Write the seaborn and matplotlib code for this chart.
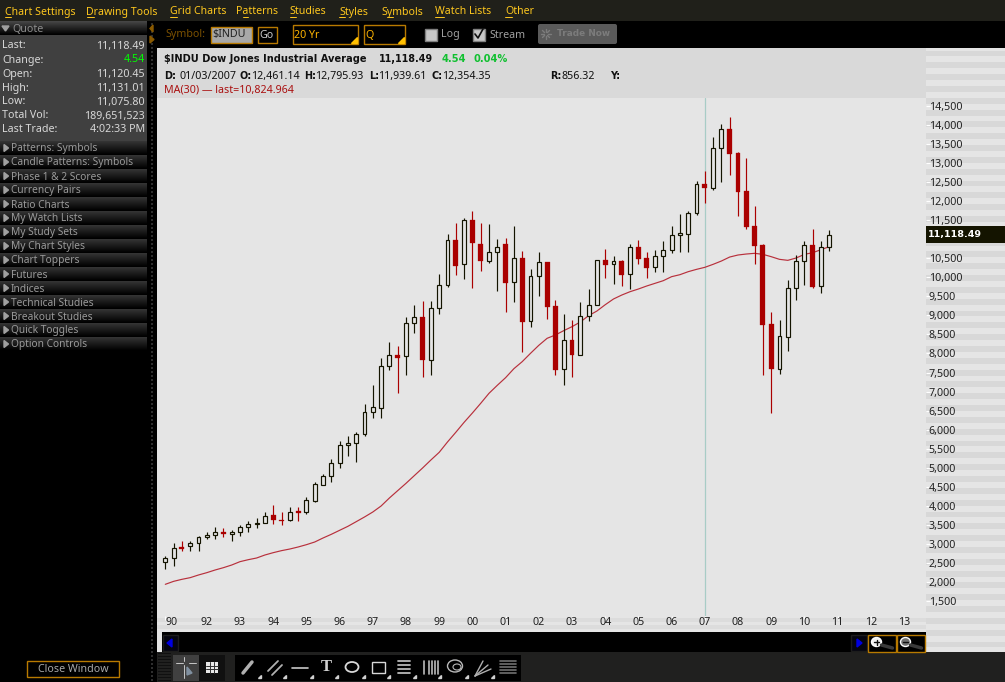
import numpy as np
import matplotlib
matplotlib.use("Agg")
import matplotlib.pyplot as plt
from matplotlib.patches import Rectangle, Polygon, Ellipse, FancyBboxPatch
import seaborn as sns

# ---------- data ----------
tops = [2620,2900,2918,3014,3172,3224,3303,3312,3312,3434,3513,3539,3741,3749,3627,3828,3863,4143,4563,4774,
        5115,5588,5640,5876,6454,6586,7662,7951,7960,8791,8949,8958,9185,9789,10971,10980,11496,11505,10875,10656,
        10787,10875,10498,10507,10026,10393,10402,9247,8345,8354,8975,9264,10446,10455,10420,10420,10787,10796,10507,10551,
        10708,11102,11155,11680,12442,12461.14,13387,13886,13895,13264,12266,11347,10849,8774,8451,9711,10420,10840,10840,10788,11118.49]
bottoms = [2515,2629,2874,2953,3014,3172,3224,3268,3268,3303,3434,3513,3539,3636,3609,3636,3819,3828,4135,4537,
           4774,5115,5588,5640,5876,6454,6559,7662,7890,7925,8791,7829,7820,9185,9789,10297,10341,10901,10428,10437,
           10656,9851,9868,8826,8844,10026,9220,7566,7583,7960,7969,8975,9264,10323,10341,10069,10078,10481,10245,10262,
           10551,10708,11102,11129,11680,12354.35,12336,13387,13238,12240,11321,10822,8748,7602,7602,8442,9711,10420,9737,9764,10788]
highs = [2682,3014,3075,3067,3207,3303,3443,3417,3356,3487,3592,3679,3828,4021,3837,3968,3968,4222,4616,4826,
         5220,5693,5833,5929,6673,7163,7881,8301,8196,8958,9264,9378,9378,10087,11137,11426,11557,11741,11426,11400,
         11006,11032,11347,10691,10218,10665,10402,9404,9036,8879,9352,9693,10446,10743,10560,10455,10866,10980,10665,10717,
         10953,11347,11662,11732,12529,12795.93,13684,14026,14210,13291,13133,11873,10875,9090,8879,9930,10586,10954,11269,10954,11243]
lows = [2331,2428,2822,2822,2822,3119,3137,3189,3084,3216,3321,3426,3539,3531,3504,3609,3609,3793,4108,4537,
        4634,5001,5316,5159,5841,6305,6305,7566,6971,7443,8546,7391,7443,9045,9754,10061,9956,9728,10166,10384,
        9649,9098,9352,8039,8704,9509,8905,7435,7172,7391,7969,8861,9264,9982,9824,9772,9693,10349,9982,10139,
        10139,10638,10665,10665,11636,11939.61,12293,12503,12687,11610,11269,10350,7435,6446,7461,8065,9405,9799,9720,9589,10691]
falling = [2,7,13,14,16,28,31,35,37,38,41,43,46,47,49,53,55,57,58,65,68,69,70,71,72,73,78]
ma30 = [1938,2016,2069,2113,2183,2244,2314,2375,2445,2533,2585,2629,2708,2769,2822,2865,2918,2979,3049,3154,
        3251,3356,3461,3583,3706,3837,3995,4205,4398,4590,4792,4993,5203,5404,5676,5930,6192,6437,6691,6954,
        7164,7365,7601,7785,8004,8214,8398,8486,8599,8704,8826,8993,9115,9280,9431,9535,9623,9693,9772,9842,
        9912,10017,10069,10148,10209,10262,10341,10428,10533,10586,10612,10630,10603,10542,10472,10446,10507,10603,10647,10726,10805]
x_tick_pos = [0,5,9,13,17,21,25,29,33,37,41,45,49,53,57,61,65,69,73,77,81,85,89]
x_tick_labels = ["90","92","93","94","95","96","97","98","99","00","01","02","03","04","05","06","07","08","09","10","11","12","13"]
y_tick_vals = list(range(1500, 15000, 500))
marker_index = 65
last_price = 11118.49
last_label = "11,118.49"
quote_labels = ["Last:","Change:","Open:","High:","Low:","Total Vol:","Last Trade:"]
quote_values = ["11,118.49","4.54","11,120.45","11,131.01","11,075.80","189,651,523","4:02:33 PM"]
panel_rows = ["Patterns: Symbols","Candle Patterns: Symbols","Phase 1 & 2 Scores","Currency Pairs","Ratio Charts",
              "My Watch Lists","My Study Sets","My Chart Styles","Chart Toppers","Futures","Indices",
              "Technical Studies","Breakout Studies","Quick Toggles","Option Controls"]
menu_items = [("Chart Settings",5,5,6),("Drawing Tools",86,87,7),("Grid Charts",170,170,7),("Patterns",236,243,5),
              ("Studies",290,290,6),("Styles",339,339,6),("Symbols",382,388,5),("Watch Lists",435,435,9),("Other",505,505,7)]

# ---------- styling ----------
sns.set_theme(style="white")
FONT = ["Noto Sans", "DejaVu Sans"]
BOLD = ["DejaVu Sans"]
plt.rcParams["font.family"] = FONT
W, H = 1005, 682
fig = plt.figure(figsize=(W/100, H/100), dpi=100, facecolor="black")
BG = "#E5E5E5"; INK = "#141400"; RED = "#AA0000"; FS = 7.7; BS = 7.1

def layer(z):
    a = fig.add_axes([0, 0, 1, 1], zorder=z)
    a.set_xlim(0, W); a.set_ylim(H, 0); a.axis("off"); a.patch.set_alpha(0)
    return a

ui = layer(0); top = layer(3)

def R(a, x0, y0, x1, y1, fc="none", ec="none", lw=0.75, z=1):
    a.add_patch(Rectangle((x0, y0), x1-x0, y1-y0, facecolor=fc, edgecolor=ec, linewidth=lw, zorder=z))

def T(a, x, y, s, c="#A8A8A8", ha="left", fs=FS, w="normal", fam=None, dy=1):
    a.text(x, y+dy, s, color=c, ha=ha, va="center", fontsize=fs, fontweight=w, family=fam or FONT, zorder=5)

def TB(a, x, y, s, c="#101010", fs=BS):
    T(a, x, y, s, c=c, fs=fs, w="bold", fam=BOLD, dy=0)

def grad(a, x0, y0, x1, y1, c0, c1):
    g = np.linspace(c0, c1, 16).reshape(-1, 1)
    a.imshow(g, extent=(x0, x1, y1, y0), aspect="auto", cmap="gray", vmin=0, vmax=255, zorder=1)
    a.set_xlim(0, W); a.set_ylim(H, 0)

# ----- chrome: base -----
R(ui, 0, 0, W, 21, "#20201A")
R(ui, 157, 48, W, 632, BG)
R(ui, 157, 48, 926, 98, "#D9D9D9")
for k in range(51):
    y = 216 + (k-14)*11.82
    if y > 46:
        R(ui, 926, max(y, 48), W, y+5.9, "#D8D8D8", z=1.5)
R(ui, 926, 632, W, 652, BG)
for k in range(32, 36):
    y = 216 + k*11.82
    R(ui, 926, y, W, y+5.9, "#D8D8D8", z=1.5)
R(ui, 157, 616, 926, 632, BG)
for y in (618, 625):
    R(ui, 157, y, 926, y+3.5, "#DCDCDC", z=1.5)
R(ui, 157, 632, 162, 652, "#E5E5E5", z=2)
R(ui, 157, 652, W, H, "#20201F", z=2)

# menu
for name, x, ux, uw in menu_items:
    T(ui, x, 11, name, c="#FFC81E", fs=7.6)
    ui.plot([ux, ux+uw], [17, 17], color="#FFC81E", lw=0.7, zorder=5)

# left panel
grad(ui, 0, 21, 147, 35, 70, 0)
ui.add_patch(Polygon([(2, 26), (9, 26), (5.5, 31)], color="#A0A0A0", zorder=5))
T(ui, 12, 28, "Quote", c="#8C8C8C")
R(ui, 0, 35, 147, 141, "#404040")
for i, (a, b) in enumerate(zip(quote_labels, quote_values)):
    T(ui, 2, 45+14*i, a, c="#D8D8D8")
    T(ui, 145, 45+14*i, b, c="#00FF00" if a == "Change:" else "#D8D8D8", ha="right")
for i, name in enumerate(panel_rows):
    y = 141+14*i
    grad(ui, 0, y, 147, y+14, 52, 0)
    ui.add_patch(Polygon([(4, y+3.5), (4, y+10.5), (8.5, y+7)], color="#A0A0A0", zorder=5))
    T(ui, 11, y+7, name, c="#9A9A9A", fs=7.35)

# splitter dots
for y in range(23, 682, 4):
    R(ui, 151, y, 152.5, y+1.5, "#2E2E2E", z=3)
ui.add_patch(Polygon([(153, 25), (153, 32), (150, 28.5)], color="#8A5A00", zorder=4))
ui.add_patch(Polygon([(150, 36), (150, 43), (154, 39.5)], color="#8A5A00", zorder=4))

# toolbar row
OR = "#B87A00"
T(ui, 166, 34, "Symbol:", c="#7A5000")
R(ui, 210.5, 26.5, 252, 42.5, "#A8A8A8", OR, 1)
T(ui, 212, 34, "$INDU", c="#202020")
R(ui, 257.5, 26.5, 277, 42.5, "#000000", OR, 1)
T(ui, 267, 34, "Go", c="#C8C8C8", ha="center")
R(ui, 292.5, 24.5, 358, 43.5, "#000000", OR, 1)
T(ui, 294, 34, "20 Yr", c="#FFB400")
R(ui, 363.5, 24.5, 405, 43.5, "#000000", OR, 1)
T(ui, 365, 34, "Q", c="#FFB400")
for xr in (358, 405):
    ui.add_patch(Polygon([(xr-7, 43), (xr-1, 43), (xr-1, 37)], color="#FFC000", zorder=4))
R(ui, 424.5, 28.5, 437, 40.5, "#C8C8C8", "#808080", 1)
T(ui, 441, 34, "Log", c="#A0A0A0")
R(ui, 472.5, 28.5, 485, 40.5, "#C8C8C8", "#808080", 1)
ui.plot([475, 478, 483], [34, 38, 29], color="#101010", lw=1.2, zorder=5)
T(ui, 489, 34, "Stream", c="#A0A0A0")
ui.add_patch(FancyBboxPatch((540, 26), 75, 16, boxstyle="round,pad=2", facecolor="#5A5A5A", edgecolor="none", zorder=1))
for ang in np.arange(0, 360, 45):
    ca, sa = np.cos(np.radians(ang)), np.sin(np.radians(ang))
    ui.plot([546+2*ca, 546+5*ca], [34+2*sa, 34+5*sa], color="#7C7C7C", lw=1, zorder=4)
TB(ui, 557, 34, "Trade Now", c="#7C7C7C", fs=6.4)

# header text
TB(ui, 164, 59, "$INDU Dow Jones Industrial Average", fs=7.15)
TB(ui, 379, 59, "11,118.49", fs=6.9)
TB(ui, 442, 59, "4.54", c="#10C030")
TB(ui, 474, 59, "0.04%", c="#10C030")
for x, s, bold in [(164,"D:",1),(179,"01/03/2007",0),(239,"O:",1),(251,"12,461.14",0),(304,"H:",1),(315,"12,795.93",0),
                   (369,"L:",1),(378,"11,939.61",0),(432,"C:",1),(442,"12,354.35",0),(550,"R:",1),(562,"856.32",0),(610,"Y:",1)]:
    if bold:
        TB(ui, x, 76, s, fs=6.9)
    else:
        T(ui, x, 76, s, c="#101010", dy=0.5)
T(ui, 164, 89, "MA(30) \u2014 last=10,824.964", c="#AA1010", dy=0.5)

# scrollbar
R(ui, 162, 634, 926, 652, "#000000", z=2)
R(ui, 162.5, 635, 178, 651, "#050510", "#1C1C1C", 1, z=3)
ui.add_patch(Polygon([(172, 639), (172, 647), (167, 643)], color="#0000E0", zorder=4))
R(ui, 851, 635, 867, 651, "#050510", "#1C1C1C", 1, z=3)
ui.add_patch(Polygon([(857, 639), (857, 647), (862, 643)], color="#0000E0", zorder=4))
for x0, x1, c, sign in [(867.5, 895.5, "#F0F0F0", "+"), (896.5, 925, "#707070", "-")]:
    R(ui, x0, 634.5, x1, 651.5, "#000000", OR, 1, z=3)
    ui.add_patch(Ellipse((x0+9, 642), 10, 9, facecolor=c, zorder=4))
    ui.plot([x0+14, x0+25], [645, 648], color="#3A3A3A", lw=2.5, zorder=4)
    ui.plot([x0+6.5, x0+11.5], [642, 642], color="#101010", lw=1, zorder=5)
    if sign == "+":
        ui.plot([x0+9, x0+9], [639.5, 644.5], color="#101010", lw=1, zorder=5)

# bottom toolbar
R(ui, 27, 660.5, 118.5, 677, "#000000", OR, 1, z=3)
T(ui, 73, 668, "Close Window", c="#A8A8A8", ha="center")
for y in range(653, 682, 3):
    R(ui, 158, y, 171, y+1, "#101010", z=3)
R(ui, 173, 655, 199, 681, "#404040", z=3)
R(ui, 199, 655, 225, 681, "#101010", z=3)
R(ui, 235, 655, 521, 681, "#000000", z=3)
ic = "#C8C8C8"
ui.plot([176,183],[663,663],color=ic,lw=.7,zorder=4); ui.plot([189,196],[663,663],color=ic,lw=.7,zorder=4)
ui.plot([183.5,183.5],[657,661],color=ic,lw=.7,zorder=4); ui.plot([183.5,183.5],[665,678],color=ic,lw=.7,zorder=4)
ui.add_patch(Polygon([(187,667),(187,675),(192,673)],color="#8090A0",zorder=4))
R(ui, 206, 662, 218, 673, "#E8E8E8", z=4)
for x in (210, 214):
    ui.plot([x,x],[662,673],color="#303030",lw=.7,zorder=5)
for y in (665.5, 669):
    ui.plot([206,218],[y,y],color="#303030",lw=.7,zorder=5)
ui.plot([243,252],[673,662],color="#B0B0B0",lw=2.5,zorder=4)
ui.plot([268,278],[671,661],color="#B0B0B0",lw=1.3,zorder=4); ui.plot([272,282],[675,665],color="#B0B0B0",lw=1.3,zorder=4)
ui.plot([292,308],[668,668],color="#C8C8C8",lw=1.2,zorder=4)
T(ui, 326, 667, "T", c="#D0D0D0", ha="center", fs=12, w="bold", fam=["Liberation Serif"], dy=0)
ui.add_patch(Ellipse((352,667),13,10,facecolor="none",edgecolor="#D8D8D8",lw=1.3,zorder=4))
R(ui, 372, 662, 385, 673, "none", "#D8D8D8", 1, z=4)
for y in (661,665,669,673):
    ui.plot([398,410],[y,y],color="#B8B8B8",lw=1.3,zorder=4)
for x in (424,429,432,435,438):
    ui.plot([x,x],[661,674],color="#B8B8B8",lw=1.2,zorder=4)
ui.add_patch(Ellipse((455,666),15,12,facecolor="none",edgecolor="#B8B8B8",lw=1,zorder=4))
ui.add_patch(Ellipse((457,667),8,6,facecolor="none",edgecolor="#B8B8B8",lw=.8,zorder=4))
for x, y in [(483,661),(488,665),(491,669)]:
    ui.plot([475,x],[676,y],color="#B0B0B0",lw=1,zorder=4)
for y in (661,664,667,670,673):
    ui.plot([500,516],[y,y],color="#707070",lw=1.2,zorder=4)
for x in (258,283,310,335,362,387,413,438,465,491):
    ui.add_patch(Polygon([(x,678),(x+3,678),(x+3,675)],color="#D0D0D0",zorder=4))

# ----- chart axes -----
ax = fig.add_axes([157/W, 1-616/H, (926-157)/W, (616-98)/H], zorder=1, facecolor=BG)
idx = np.arange(len(tops))
tops_a, bottoms_a = np.array(tops, float), np.array(bottoms, float)
highs_a, lows_a = np.array(highs, float), np.array(lows, float)
is_down = np.isin(idx, falling)

ax.axvline(marker_index, color="#A8CCC6", lw=0.9, zorder=1)
sns.lineplot(x=idx, y=ma30, ax=ax, color="#B8303C", lw=0.85, zorder=2, legend=False)

ax.vlines(idx[~is_down], lows_a[~is_down], highs_a[~is_down], color=INK, lw=0.85, zorder=3)
ax.vlines(idx[is_down], lows_a[is_down], highs_a[is_down], color=RED, lw=0.85, zorder=3)
ax.bar(idx[~is_down], (tops_a-bottoms_a)[~is_down], bottom=bottoms_a[~is_down], width=0.47,
       facecolor=BG, edgecolor=INK, linewidth=0.85, zorder=4)
ax.bar(idx[is_down], (tops_a-bottoms_a)[is_down], bottom=bottoms_a[is_down], width=0.6,
       facecolor=RED, edgecolor=RED, linewidth=0.2, zorder=4)

ax.set_xlim(-1.0, 91.65)
ax.set_ylim(1106, 14709)
for s in ax.spines.values():
    s.set_visible(False)
ax.yaxis.tick_right()
ax.set_yticks(y_tick_vals)
# the 11,000 label is hidden behind the last-price tag in the reference
ax.set_yticklabels(["" if v == 11000 else f"{v:,}" for v in y_tick_vals], color="#202020", fontsize=FS)
ax.tick_params(axis="y", length=3, width=0.8, color="white", pad=-1, right=True, left=False)
ax.set_xticks(x_tick_pos)
ax.set_xticklabels(x_tick_labels, color="#202020", fontsize=FS)
ax.tick_params(axis="x", length=3, width=0.8, color="white", pad=-2, bottom=True)
ax.get_xticklabels()[0].set_ha("left")
ax.grid(False)

# last-price tag
R(top, 926, 226, W, 243, INK, z=4)
TB(top, 928, 234.5, last_label, c="#FFFFFF", fs=6.8)

fig.savefig("out.png", dpi=100, facecolor="black")
